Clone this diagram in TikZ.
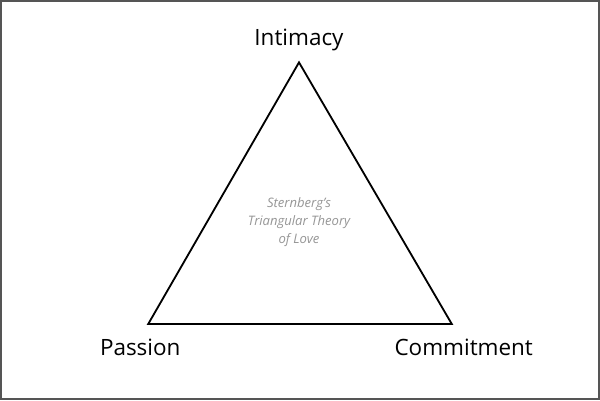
\documentclass[tikz,border=0pt]{standalone}
\usepackage{fontspec}
\setmainfont{Open Sans}
\usetikzlibrary{calc}
\definecolor{framegray}{RGB}{85, 85, 85}
\definecolor{notegray}{RGB}{150, 150, 150}

\begin{document}
\begin{tikzpicture}[x=0.025cm, y=-0.025cm]
    \tikzset{
      corner/.style={font=\fontsize{16}{18}\selectfont, text=black},
      note/.style={font=\fontsize{9.3}{12.8}\selectfont\itshape, text=notegray, align=center}
    }
    \draw[framegray, line width=1.4pt, fill=white] (0.5,0.5) rectangle (599.5,399.5);
    % vertices of the triangle
    \coordinate (top) at (299,62);
    \coordinate (left) at (148,324);
    \coordinate (right) at (452,324);
    \draw[line width=1.3pt, line join=miter] (top) -- (left) -- (right) -- cycle;
    \node[corner] (intimacy) at (299,40) {Intimacy};
    \node[corner] (passion) at (140,347) {Passion};
    \node[corner] (commitment) at (464,347) {Commitment};
    \node[note] (theory) at (299,222) {Sternberg's\\Triangular Theory\\of Love};
  \end{tikzpicture}
\end{document}
